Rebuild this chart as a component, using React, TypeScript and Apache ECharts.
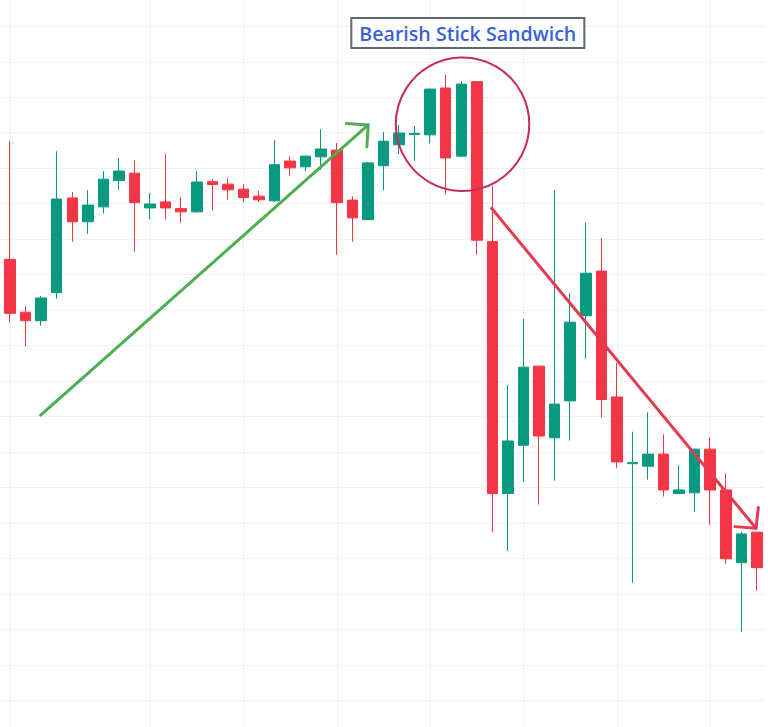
import React, { useEffect, useRef } from "react";
import * as echarts from "echarts";

// ---- data (price units; each horizontal grid step = 10) ----
const categories = Array.from({ length: 50 }, (_, i) => `D${i + 1}`);
const opens = [130.4, 134.3, 119.4, 117.0, 124.9, 151.6, 144.9, 149.1, 156.5, 158.6,
  148.8, 150.5, 148.6, 147.7, 156.2, 155.5, 154.1, 152.1, 150.8, 162.0,
  160.4, 163.2, 165.1, 151.0, 145.5, 160.7, 166.6, 169.5, 169.4, 182.6,
  163.4, 184.4, 139.3, 68.3, 81.9, 104.2, 84.0, 94.4, 118.4, 131.0,
  95.5, 76.7, 76.0, 79.4, 68.3, 68.5, 80.8, 69.3, 48.8, 57.4];
const closes = [136.9, 119.1, 117.0, 123.4, 151.3, 144.9, 149.6, 156.9, 159.2, 150.3,
  149.9, 148.8, 147.7, 156.1, 155.4, 153.9, 151.7, 151.1, 161.0, 160.1,
  163.4, 165.4, 150.3, 146.0, 161.5, 167.6, 169.9, 169.8, 182.3, 162.9,
  183.7, 139.7, 68.3, 83.1, 103.9, 84.5, 93.5, 116.6, 130.4, 94.8,
  77.2, 77.0, 79.4, 69.3, 69.3, 80.8, 69.3, 49.9, 56.9, 47.4];
const lows = [128.5, 116.5, 109.7, 115.6, 123.2, 139.3, 141.5, 147.2, 153.9, 136.4,
  145.6, 145.6, 144.6, 147.5, 148.0, 151.1, 150.3, 150.5, 150.5, 157.9,
  159.2, 159.5, 135.6, 139.3, 145.4, 153.8, 164.0, 162.1, 167.0, 152.6,
  163.3, 135.6, 57.5, 52.1, 71.6, 65.2, 71.9, 83.2, 106.3, 89.7,
  75.5, 43.1, 72.2, 67.4, 68.2, 63.1, 59.5, 48.5, 29.3, 40.9];
const highs = [138.3, 167.7, 121.1, 124.0, 164.8, 153.3, 153.8, 159.2, 162.9, 162.3,
  153.0, 164.1, 151.9, 159.2, 156.9, 157.2, 155.5, 153.6, 167.9, 163.3,
  163.5, 171.0, 167.1, 152.1, 161.8, 170.2, 172.2, 171.9, 182.4, 186.3,
  184.6, 184.6, 155.0, 98.9, 117.5, 104.3, 153.8, 124.8, 144.6, 140.3,
  105.1, 85.7, 91.2, 85.0, 76.3, 80.9, 84.2, 74.0, 57.5, 57.5];

// vertical grid lines at these candle indices
const vGridIndices = [1, 10, 16, 22, 28, 34, 40, 46];

// annotations in data coordinates [categoryIndex (fractional allowed), price]
const titleText = "Bearish Stick Sandwich";
const titleAnchor = [30.42, 198.1];
const circleCenter = [30.08, 172.4];
const circleRadiusCats = 4.29;
const greenArrow = [[2.97, 90.4], [24.02, 172.2]];
const redArrow = [[31.95, 148.7], [48.94, 58.5]];

const UP = "#089981";
const DOWN = "#f23645";
const GRID = "#f0f0f0";
const PAD = 30; // canvas overhang so the plot can extend past the page edges

function arrowHead(tip: number[], from: number[], len: number, ang: number) {
  const back = Math.atan2(from[1] - tip[1], from[0] - tip[0]);
  const a1 = back + (ang * Math.PI) / 180;
  const a2 = back - (ang * Math.PI) / 180;
  return [
    [tip[0] + len * Math.cos(a1), tip[1] + len * Math.sin(a1)],
    [tip[0], tip[1]],
    [tip[0] + len * Math.cos(a2), tip[1] + len * Math.sin(a2)],
  ];
}

export default function App() {
  const ref = useRef<HTMLDivElement>(null);
  useEffect(() => {
    const chart = echarts.init(ref.current!, null, { renderer: "svg" });
    const data = opens.map((o, i) => [o, closes[i], lows[i], highs[i]]);
    chart.setOption({
      animation: false,
      backgroundColor: "#ffffff",
      grid: { left: PAD - 13.3, right: PAD + 3.3, top: PAD - 9.17, bottom: PAD - 8.77 },
      xAxis: {
        type: "category",
        data: categories,
        axisLine: { show: false },
        axisTick: { show: false },
        axisLabel: { show: false },
        splitLine: { show: false },
      },
      yAxis: {
        type: "value",
        min: 0,
        max: 210,
        interval: 10,
        axisLine: { show: false },
        axisTick: { show: false },
        axisLabel: { show: false },
        splitLine: { show: true, lineStyle: { color: GRID, width: 1 } },
      },
      series: [
        {
          type: "candlestick",
          data,
          barWidth: 11,
          itemStyle: {
            color: UP,
            color0: DOWN,
            borderColor: UP,
            borderColor0: DOWN,
            borderWidth: 1,
          },
          markLine: {
            silent: true,
            symbol: "none",
            z: 1,
            label: { show: false },
            lineStyle: { color: GRID, width: 1, type: "solid" },
            data: vGridIndices.map((i) => ({ xAxis: i })),
          },
        },
      ],
    });

    // category axis snaps to whole indices, so interpolate fractional ones
    const px = (p: number[]) => {
      const i0 = Math.floor(p[0]);
      const a = chart.convertToPixel({ xAxisIndex: 0, yAxisIndex: 0 }, [i0, p[1]]) as number[];
      const b = chart.convertToPixel({ xAxisIndex: 0, yAxisIndex: 0 }, [i0 + 1, p[1]]) as number[];
      const f = p[0] - i0;
      return [a[0] + (b[0] - a[0]) * f, a[1]];
    };

    const c = px(circleCenter);
    const cEdge = px([circleCenter[0] + circleRadiusCats, circleCenter[1]]);
    const r = Math.abs(cEdge[0] - c[0]);

    const g0 = px(greenArrow[0]);
    const g1 = px(greenArrow[1]);
    const r0 = px(redArrow[0]);
    const r1 = px(redArrow[1]);
    const t = px(titleAnchor);

    chart.setOption({
      graphic: [
        {
          type: "circle",
          shape: { cx: c[0], cy: c[1], r },
          style: { fill: "none", stroke: "#c9285a", lineWidth: 2 },
          z: 100,
        },
        {
          type: "polyline",
          shape: { points: [g0, g1] },
          style: { stroke: "#4caf50", lineWidth: 3, fill: "none", lineCap: "round" },
          z: 100,
        },
        {
          type: "polyline",
          shape: { points: arrowHead(g1, g0, 22, 45) },
          style: { stroke: "#4caf50", lineWidth: 3, fill: "none", lineCap: "round", lineJoin: "round" },
          z: 100,
        },
        {
          type: "polyline",
          shape: { points: [r0, r1] },
          style: { stroke: "#e43a52", lineWidth: 3, fill: "none", lineCap: "round" },
          z: 100,
        },
        {
          type: "polyline",
          shape: { points: arrowHead(r1, r0, 21, 46) },
          style: { stroke: "#e43a52", lineWidth: 3, fill: "none", lineCap: "round", lineJoin: "round" },
          z: 100,
        },
        {
          type: "text",
          x: t[0],
          y: t[1],
          z: 110,
          style: {
            text: titleText,
            fontFamily: '"Open Sans", "Noto Sans", sans-serif',
            fontSize: 19.6,
            fontWeight: 600,
            fill: "#3a62d4",
            align: "center",
            verticalAlign: "middle",
            backgroundColor: "#ffffff",
            borderColor: "#5f6a6e",
            borderWidth: 2,
            padding: [3, 7, 3, 7],
            lineHeight: 22,
          },
        },
      ],
    });

    return () => chart.dispose();
  }, []);

  return (
    <div
      ref={ref}
      style={{
        position: "fixed",
        left: -PAD,
        top: -PAD,
        width: 768 + 2 * PAD,
        height: 727 + 2 * PAD,
        background: "#fff",
      }}
    />
  );
}
